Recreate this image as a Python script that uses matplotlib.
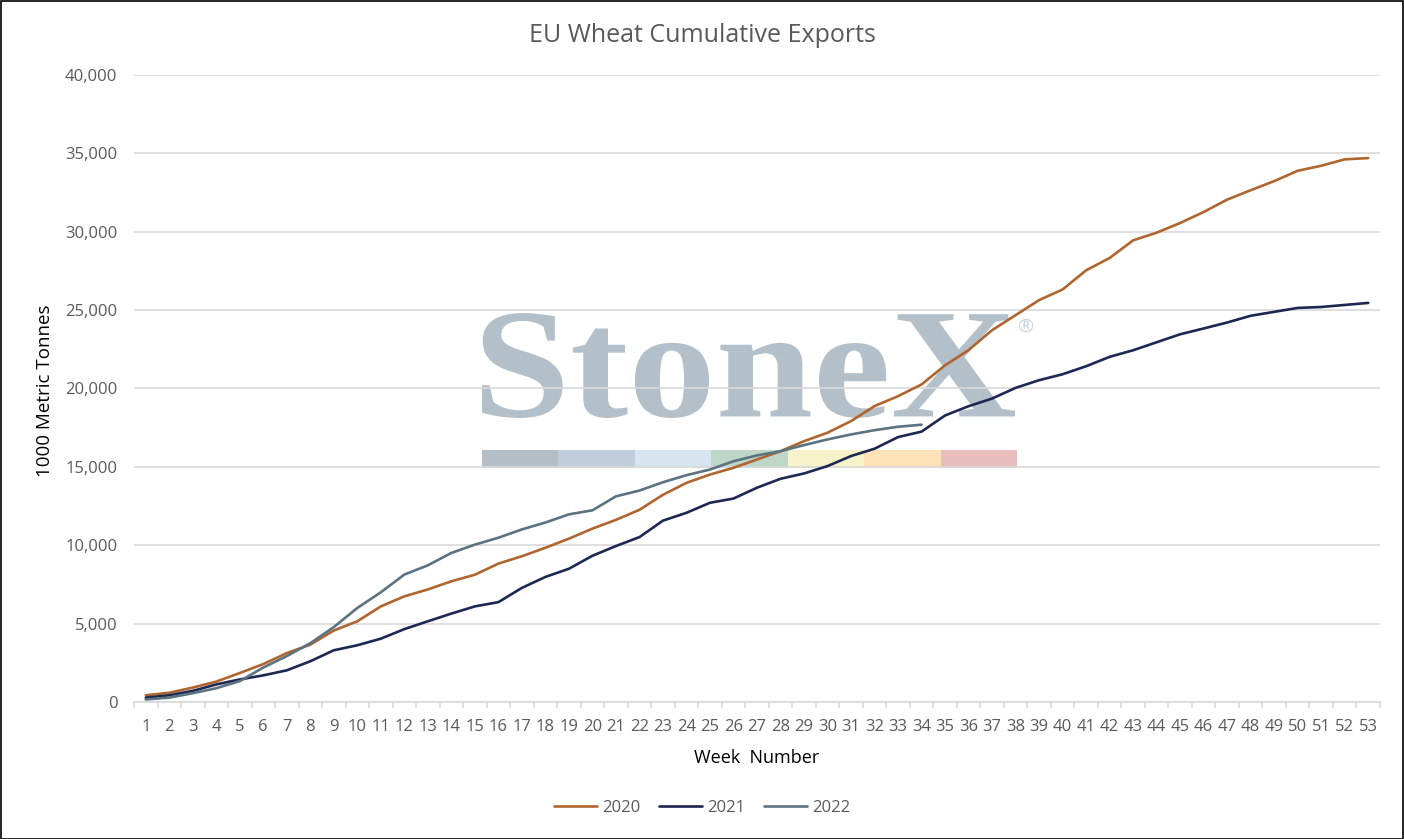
import numpy as np
import matplotlib
matplotlib.use("Agg")
import matplotlib.pyplot as plt
from matplotlib.patches import Rectangle, PathPatch
from matplotlib.textpath import TextPath
from matplotlib.font_manager import FontProperties
from matplotlib.transforms import Affine2D
from matplotlib.ticker import FuncFormatter, MultipleLocator

plt.rcParams['font.family'] = ['Open Sans', 'DejaVu Sans']

weeks = list(range(1, 54))
exports_2020 = [430, 590, 920, 1300, 1850, 2420, 3120, 3660, 4560, 5150,
                6100, 6740, 7180, 7700, 8120, 8830, 9300, 9840, 10420, 11060,
                11620, 12260, 13220, 13980, 14510, 14940, 15470, 16000, 16640, 17180,
                17920, 18880, 19510, 20260, 21480, 22450, 23720, 24680, 25640, 26320,
                27540, 28330, 29450, 29940, 30560, 31260, 32050, 32650, 33230, 33890,
                34210, 34620, 34700]
exports_2021 = [280, 430, 710, 1120, 1440, 1700, 2020, 2600, 3300, 3620,
                4040, 4650, 5150, 5640, 6100, 6370, 7280, 7980, 8500, 9330,
                9950, 10520, 11570, 12070, 12710, 12980, 13670, 14240, 14580, 15050,
                15690, 16160, 16900, 17250, 18280, 18870, 19360, 20040, 20530, 20910,
                21420, 22020, 22440, 22950, 23460, 23830, 24210, 24640, 24890, 25140,
                25200, 25330, 25460]
exports_2022 = [160, 280, 560, 880, 1330, 2200, 2930, 3750, 4780, 6000,
                7000, 8130, 8720, 9510, 10040, 10480, 11010, 11450, 11970, 12230,
                13120, 13490, 14020, 14470, 14830, 15360, 15730, 16000, 16390, 16750,
                17070, 17340, 17560, 17690]

series = [("2020", exports_2020, "#b0652f"),
          ("2021", exports_2021, "#1c2752"),
          ("2022", exports_2022, "#5b7380")]

band_colors = ["#b3bec7", "#bfcddc", "#d7e5f0", "#bdd6c8", "#f6f2c9", "#fce2b6", "#e8bdbd"]

W, H = 1404, 839
fig = plt.figure(figsize=(W / 100, H / 100), dpi=100)
ax = fig.add_axes([134 / W, 1 - 702 / H, (1380 - 134) / W, (702 - 75) / H])

# watermark: logo text stretched into its box (pixels from top-left)
tp = TextPath((0, 0), "StoneX", size=100,
              prop=FontProperties(family="Liberation Serif", weight="bold"))
ext = tp.get_extents()
x0, x1, ytop, ybot = 482, 1015, 313, 418
sx = (x1 - x0) / W / ext.width
sy = (ybot - ytop) / H / ext.height
tr = Affine2D().translate(-ext.x0, -ext.y0).scale(sx, sy).translate(x0 / W, 1 - ybot / H)
ax.add_artist(PathPatch(tp, transform=tr + fig.transFigure, facecolor="#b4c0c9",
                        edgecolor="none", zorder=0.5))
ax.text(1026 / W, 1 - 327 / H, "\u00ae", transform=fig.transFigure,
        fontsize=14, color="#c9d2d9", ha="center", va="center", zorder=0.5)
seg_w = (1017 - 482) / len(band_colors)
for i, c in enumerate(band_colors):
    ax.add_artist(Rectangle(((482 + i * seg_w) / W, 1 - 468 / H), seg_w / W, 18 / H,
                            transform=fig.transFigure, facecolor=c, edgecolor="none",
                            zorder=0.5))

for name, vals, col in series:
    ax.plot(weeks[:len(vals)], vals, color=col, lw=1.9, label=name, zorder=3,
            solid_capstyle="round")

ax.set_xlim(0.5, 53.5)
ax.set_ylim(0, 40000)
ax.yaxis.set_major_locator(MultipleLocator(5000))
ax.yaxis.set_major_formatter(FuncFormatter(lambda v, p: f"{int(v):,}"))
ax.set_xticks(weeks)
ax.set_xticks(np.arange(0.5, 54, 1), minor=True)
ax.grid(axis="y", color="#d9d9d9", lw=1.2)
ax.set_axisbelow("line")
for s in ["top", "right", "left"]:
    ax.spines[s].set_visible(False)
ax.spines["bottom"].set_color("#d9d9d9")
ax.spines["bottom"].set_linewidth(1.2)
ax.tick_params(axis="y", length=0, pad=12, labelsize=12, labelcolor="#595959")
ax.tick_params(axis="x", which="major", length=0, pad=12, labelsize=12, labelcolor="#595959")
ax.tick_params(axis="x", which="minor", length=4, width=1.2, color="#d9d9d9")

ax.set_xlabel("Week  Number", fontsize=13, color="black", labelpad=10)
fig.text(45 / W, 1 - 391 / H, "1000 Metric Tonnes", rotation=90, fontsize=13.5,
         color="black", ha="center", va="center")
fig.text(0.5, 1 - 36 / H, "EU Wheat Cumulative Exports", fontsize=18,
         color="#595959", ha="center", va="center")

fig.legend(loc="center", bbox_to_anchor=(0.5, 1 - 808 / H), ncol=3, frameon=False,
           fontsize=12, labelcolor="#595959", handlelength=2.6, handletextpad=0.3,
           columnspacing=1.1)

fig.add_artist(Rectangle((0.5 / W, 0.5 / H), 1 - 1.5 / W, 1 - 1.5 / H,
                         transform=fig.transFigure, fill=False, edgecolor="black", lw=1.2))

fig.savefig("out.png", dpi=100)
